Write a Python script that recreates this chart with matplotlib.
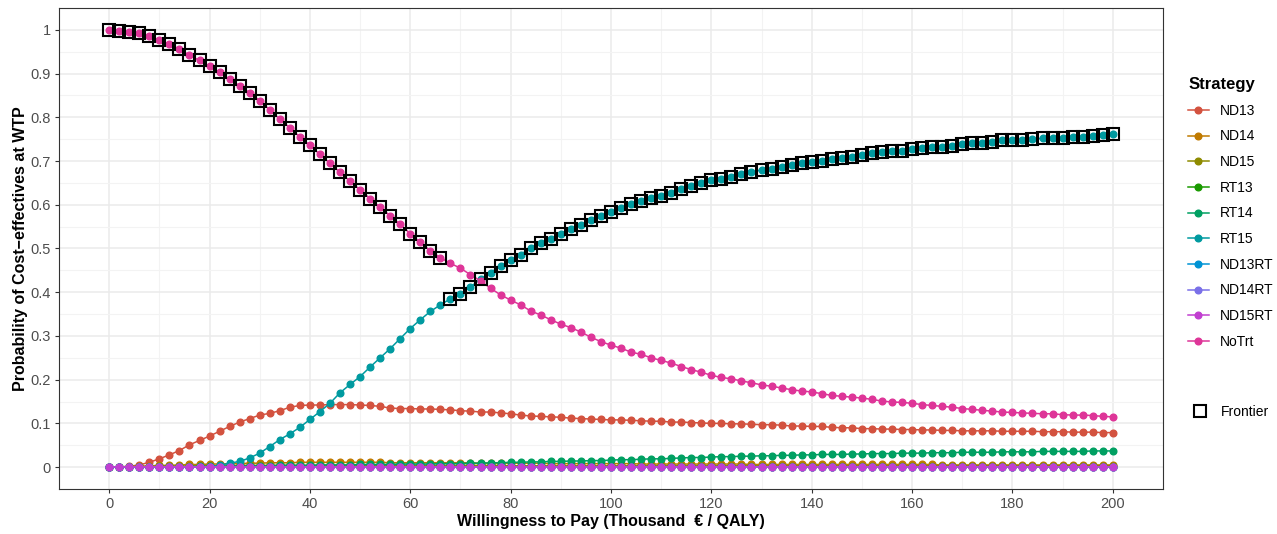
import matplotlib.pyplot as plt
from matplotlib.lines import Line2D
import numpy as np

plt.rcParams['font.family'] = ['Liberation Sans', 'DejaVu Sans']

# WTP grid (thousand EUR / QALY)
wtp = list(range(0, 201, 2))

strategies = ["ND13", "ND14", "ND15", "RT13", "RT14", "RT15",
              "ND13RT", "ND14RT", "ND15RT", "NoTrt"]
colors = ["#D3523F", "#C07A00", "#8E8B00", "#1A9A00", "#00A062", "#009AA0",
          "#0093D4", "#7A70E8", "#C13FD0", "#DE3598"]

# probability of being cost-effective
nd13 = [0.000, 0.000, 0.002, 0.005, 0.011, 0.019, 0.028, 0.038, 0.051, 0.061,
        0.071, 0.082, 0.093, 0.103, 0.111, 0.119, 0.123, 0.129, 0.137, 0.141,
        0.142, 0.142, 0.143, 0.143, 0.143, 0.142, 0.141, 0.139, 0.135, 0.134,
        0.134, 0.133, 0.133, 0.132, 0.131, 0.129, 0.128, 0.126, 0.126, 0.124,
        0.122, 0.119, 0.117, 0.116, 0.115, 0.114, 0.112, 0.111, 0.110, 0.109,
        0.108, 0.108, 0.107, 0.106, 0.105, 0.105, 0.103, 0.103, 0.102, 0.101,
        0.100, 0.100, 0.099, 0.099, 0.098, 0.097, 0.097, 0.096, 0.094, 0.094,
        0.093, 0.093, 0.091, 0.090, 0.090, 0.088, 0.088, 0.087, 0.087, 0.086,
        0.086, 0.085, 0.085, 0.084, 0.084, 0.083, 0.083, 0.083, 0.083, 0.082,
        0.082, 0.082, 0.082, 0.081, 0.081, 0.081, 0.080, 0.080, 0.080, 0.079,
        0.079]
nd14 = [0.000, 0.001, 0.001, 0.002, 0.003, 0.004, 0.004, 0.005, 0.006, 0.006,
        0.007, 0.007, 0.008, 0.008, 0.009, 0.009, 0.010, 0.010, 0.010, 0.011,
        0.011, 0.011, 0.011, 0.011, 0.011, 0.011, 0.011, 0.011, 0.010, 0.010,
        0.010, 0.010, 0.010, 0.010, 0.010, 0.010, 0.010, 0.009, 0.009, 0.009,
        0.009, 0.009, 0.009, 0.009, 0.008, 0.008, 0.008, 0.008, 0.008, 0.008,
        0.008, 0.008, 0.008, 0.007, 0.007, 0.007, 0.007, 0.007, 0.007, 0.007,
        0.007, 0.007, 0.007, 0.007, 0.006, 0.006, 0.006, 0.006, 0.006, 0.006,
        0.006, 0.006, 0.006, 0.006, 0.006, 0.006, 0.006, 0.006, 0.006, 0.006,
        0.006, 0.006, 0.006, 0.005, 0.005, 0.005, 0.005, 0.005, 0.005, 0.005,
        0.005, 0.005, 0.005, 0.005, 0.005, 0.005, 0.005, 0.005, 0.005, 0.005,
        0.005]
nd15 = [0.000, 0.000, 0.001, 0.001, 0.001, 0.002, 0.002, 0.002, 0.003, 0.003,
        0.003, 0.003, 0.003, 0.004, 0.004, 0.004, 0.004, 0.004, 0.004, 0.004,
        0.004, 0.004, 0.004, 0.004, 0.004, 0.004, 0.004, 0.004, 0.004, 0.004,
        0.004, 0.004, 0.004, 0.004, 0.004, 0.004, 0.004, 0.004, 0.004, 0.004,
        0.003, 0.003, 0.003, 0.003, 0.003, 0.003, 0.003, 0.003, 0.003, 0.003,
        0.003, 0.003, 0.003, 0.003, 0.003, 0.003, 0.003, 0.003, 0.003, 0.003,
        0.003, 0.003, 0.003, 0.003, 0.003, 0.003, 0.003, 0.003, 0.003, 0.003,
        0.003, 0.003, 0.003, 0.003, 0.003, 0.003, 0.003, 0.003, 0.003, 0.003,
        0.003, 0.003, 0.003, 0.003, 0.003, 0.003, 0.003, 0.003, 0.003, 0.003,
        0.003, 0.003, 0.003, 0.003, 0.003, 0.003, 0.003, 0.003, 0.003, 0.003,
        0.003]
rt13 = [0.000, 0.000, 0.000, 0.000, 0.000, 0.000, 0.000, 0.000, 0.000, 0.000,
        0.001, 0.001, 0.001, 0.001, 0.001, 0.001, 0.001, 0.001, 0.001, 0.001,
        0.001, 0.001, 0.001, 0.001, 0.001, 0.001, 0.001, 0.001, 0.001, 0.001,
        0.001, 0.001, 0.001, 0.001, 0.001, 0.001, 0.001, 0.001, 0.001, 0.001,
        0.001, 0.001, 0.001, 0.001, 0.001, 0.001, 0.001, 0.001, 0.001, 0.001,
        0.001, 0.001, 0.001, 0.001, 0.001, 0.001, 0.001, 0.001, 0.001, 0.001,
        0.001, 0.001, 0.001, 0.001, 0.001, 0.001, 0.001, 0.001, 0.001, 0.001,
        0.001, 0.001, 0.001, 0.001, 0.001, 0.001, 0.001, 0.001, 0.001, 0.001,
        0.001, 0.001, 0.001, 0.001, 0.001, 0.001, 0.001, 0.001, 0.001, 0.001,
        0.001, 0.001, 0.001, 0.001, 0.001, 0.001, 0.001, 0.001, 0.001, 0.001,
        0.001]
rt14 = [0.000, 0.000, 0.000, 0.000, 0.000, 0.001, 0.001, 0.001, 0.001, 0.002,
        0.002, 0.002, 0.002, 0.003, 0.003, 0.003, 0.003, 0.004, 0.004, 0.004,
        0.004, 0.005, 0.005, 0.005, 0.005, 0.006, 0.006, 0.006, 0.006, 0.007,
        0.007, 0.007, 0.007, 0.008, 0.008, 0.008, 0.009, 0.009, 0.010, 0.010,
        0.011, 0.011, 0.012, 0.012, 0.013, 0.013, 0.014, 0.014, 0.015, 0.015,
        0.016, 0.017, 0.017, 0.018, 0.019, 0.019, 0.020, 0.021, 0.022, 0.022,
        0.023, 0.024, 0.024, 0.025, 0.025, 0.026, 0.026, 0.027, 0.027, 0.028,
        0.028, 0.029, 0.029, 0.029, 0.030, 0.030, 0.031, 0.031, 0.031, 0.032,
        0.032, 0.032, 0.033, 0.033, 0.033, 0.034, 0.034, 0.034, 0.034, 0.035,
        0.035, 0.035, 0.035, 0.036, 0.036, 0.036, 0.036, 0.036, 0.037, 0.037,
        0.037]
rt15 = [0.000, 0.000, 0.000, 0.000, 0.000, 0.000, 0.000, 0.000, 0.000, 0.000,
        0.001, 0.004, 0.009, 0.013, 0.021, 0.032, 0.047, 0.063, 0.076, 0.091,
        0.109, 0.127, 0.146, 0.170, 0.189, 0.207, 0.229, 0.250, 0.271, 0.294,
        0.317, 0.337, 0.356, 0.371, 0.385, 0.397, 0.412, 0.430, 0.445, 0.460,
        0.473, 0.486, 0.502, 0.512, 0.522, 0.534, 0.544, 0.554, 0.565, 0.574,
        0.583, 0.593, 0.602, 0.608, 0.616, 0.620, 0.628, 0.635, 0.643, 0.649,
        0.656, 0.660, 0.664, 0.671, 0.674, 0.680, 0.681, 0.686, 0.691, 0.695,
        0.697, 0.701, 0.705, 0.707, 0.710, 0.714, 0.718, 0.721, 0.724, 0.724,
        0.727, 0.729, 0.732, 0.733, 0.735, 0.739, 0.741, 0.742, 0.744, 0.747,
        0.747, 0.749, 0.750, 0.752, 0.752, 0.753, 0.754, 0.755, 0.758, 0.759,
        0.761]
zeros = [0.000, 0.000, 0.000, 0.000, 0.000, 0.000, 0.000, 0.000, 0.000, 0.000,
         0.000, 0.000, 0.000, 0.000, 0.000, 0.000, 0.000, 0.000, 0.000, 0.000,
         0.000, 0.000, 0.000, 0.000, 0.000, 0.000, 0.000, 0.000, 0.000, 0.000,
         0.000, 0.000, 0.000, 0.000, 0.000, 0.000, 0.000, 0.000, 0.000, 0.000,
         0.000, 0.000, 0.000, 0.000, 0.000, 0.000, 0.000, 0.000, 0.000, 0.000,
         0.000, 0.000, 0.000, 0.000, 0.000, 0.000, 0.000, 0.000, 0.000, 0.000,
         0.000, 0.000, 0.000, 0.000, 0.000, 0.000, 0.000, 0.000, 0.000, 0.000,
         0.000, 0.000, 0.000, 0.000, 0.000, 0.000, 0.000, 0.000, 0.000, 0.000,
         0.000, 0.000, 0.000, 0.000, 0.000, 0.000, 0.000, 0.000, 0.000, 0.000,
         0.000, 0.000, 0.000, 0.000, 0.000, 0.000, 0.000, 0.000, 0.000, 0.000,
         0.000]
nd13rt = zeros
nd14rt = zeros
nd15rt = zeros
notrt = [1.000, 0.998, 0.995, 0.993, 0.986, 0.976, 0.967, 0.956, 0.942, 0.930,
         0.917, 0.903, 0.887, 0.872, 0.856, 0.838, 0.817, 0.796, 0.776, 0.755,
         0.736, 0.715, 0.695, 0.674, 0.654, 0.634, 0.614, 0.594, 0.575, 0.555,
         0.534, 0.514, 0.495, 0.479, 0.466, 0.455, 0.440, 0.426, 0.409, 0.394,
         0.382, 0.371, 0.357, 0.348, 0.337, 0.327, 0.319, 0.309, 0.297, 0.287,
         0.279, 0.272, 0.263, 0.258, 0.250, 0.244, 0.238, 0.230, 0.223, 0.217,
         0.210, 0.205, 0.202, 0.197, 0.193, 0.188, 0.185, 0.181, 0.177, 0.174,
         0.172, 0.168, 0.164, 0.162, 0.160, 0.158, 0.155, 0.151, 0.149, 0.148,
         0.146, 0.143, 0.141, 0.139, 0.137, 0.134, 0.132, 0.130, 0.128, 0.126,
         0.125, 0.124, 0.123, 0.122, 0.122, 0.120, 0.119, 0.119, 0.118, 0.116,
         0.115]

series = [nd13, nd14, nd15, rt13, rt14, rt15, nd13rt, nd14rt, nd15rt, notrt]

# optimal strategy along the frontier: (strategy, first wtp, last wtp)
frontier = [("NoTrt", 0, 66), ("RT15", 68, 200)]

fig = plt.figure(figsize=(12.77, 5.34), dpi=100)
ax = fig.add_axes([0.0462, 0.0843, 0.8645, 0.9007])

x = np.array(wtp)
for name, y, c in zip(strategies, series, colors):
    ax.plot(x, y, color=c, lw=1.1, marker='o', ms=4.8, mec=c, mfc=c, zorder=3)

for name, lo, hi in frontier:
    y = np.array(series[strategies.index(name)])
    sel = (x >= lo) & (x <= hi)
    ax.plot(x[sel], y[sel], ls='none', marker='s', ms=8.6, mfc='none',
            mec='black', mew=1.5, zorder=4)

ax.set_xlim(-10, 210)
ax.set_ylim(-0.05, 1.05)
ax.set_xticks(np.arange(0, 201, 20))
ax.set_xticks(np.arange(10, 201, 20), minor=True)
ax.set_yticks(np.arange(0, 1.01, 0.1))
ax.set_yticks(np.arange(0.05, 1.0, 0.1), minor=True)
ax.set_yticklabels(['0', '0.1', '0.2', '0.3', '0.4', '0.5', '0.6', '0.7', '0.8', '0.9', '1'])
ax.grid(which='major', color='#EBEBEB', lw=1.1, zorder=0)
ax.grid(which='minor', color='#F3F3F3', lw=0.8, zorder=0)
ax.set_axisbelow(True)
ax.tick_params(which='major', length=3, width=0.8, color='#333333',
               labelsize=10.5, labelcolor='#4D4D4D', pad=3)
ax.tick_params(which='minor', length=0)
for s in ax.spines.values():
    s.set_color('#333333')
    s.set_linewidth(0.8)

ax.set_xlabel('Willingness to Pay (Thousand  \u20ac / QALY)', fontsize=11.5,
              fontweight='bold', labelpad=2)
ax.set_ylabel('Probability of Cost\u2212effectives at WTP', fontsize=11.5,
              fontweight='bold', labelpad=2)

handles = [Line2D([], [], color=c, lw=1.1, marker='o', ms=4.8) for c in colors]
leg = fig.legend(handles, strategies, title='Strategy', loc='upper left',
                 bbox_to_anchor=(0.926, 0.866), frameon=False, fontsize=10,
                 title_fontproperties={'weight': 'bold', 'size': 12},
                 handlelength=1.5, labelspacing=0.84, handletextpad=0.8,
                 borderaxespad=0)
leg._legend_box.align = 'left'

fr = Line2D([], [], ls='none', marker='s', ms=9, mfc='none', mec='black', mew=1.5)
fig.legend([fr], ['Frontier'], loc='upper left', bbox_to_anchor=(0.927, 0.2525),
           frameon=False, fontsize=10, handlelength=1.5, handletextpad=0.8,
           borderaxespad=0)

fig.savefig('out.png', dpi=100)
